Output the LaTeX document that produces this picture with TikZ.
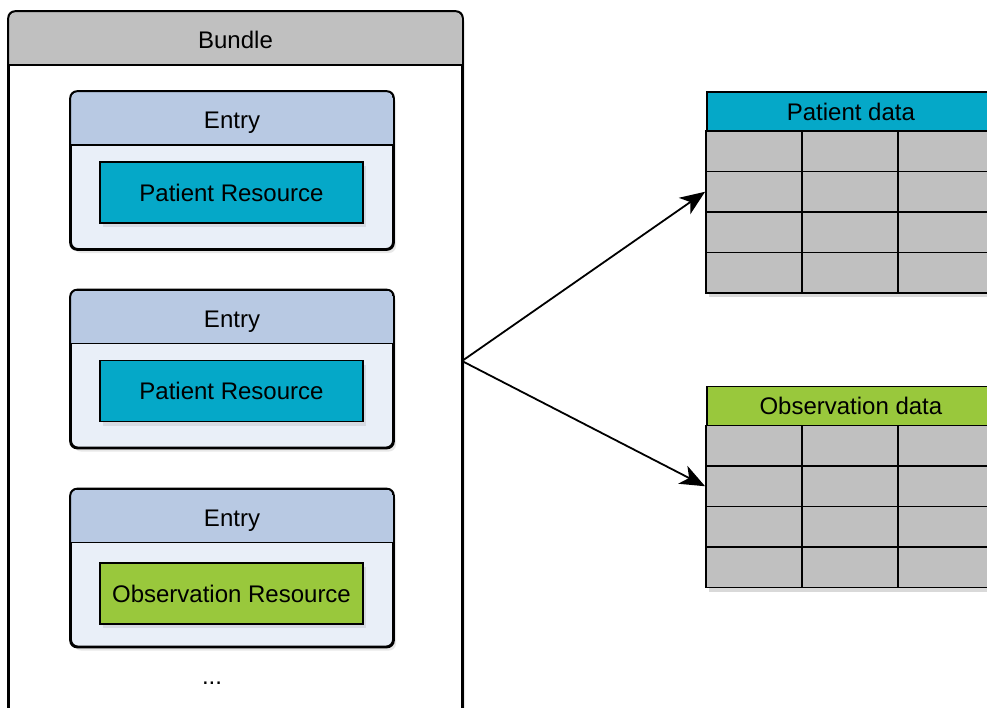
\documentclass[tikz,border=0pt]{standalone}
\usepackage{fontspec}
\setmainfont{Liberation Sans}
\usetikzlibrary{shadows,arrows.meta}
\definecolor{bundlehead}{HTML}{C0C0C0}
\definecolor{entryhead}{HTML}{B8C9E3}
\definecolor{entrybg}{HTML}{E9EFF8}
\definecolor{patientcol}{HTML}{05A8C8}
\definecolor{obscol}{HTML}{99C83C}
\definecolor{cellgray}{HTML}{C0C0C0}
\newcommand\mylbl{\fontsize{24}{28}\selectfont}
\tikzset{
  bord/.style={line width=1.8pt},
  shade/.style={drop shadow={shadow xshift=3pt,shadow yshift=-4pt,opacity=0.18}},
  entrybody/.style={draw, bord, fill=entrybg, rounded corners=7pt, minimum width=322pt, minimum height=157pt, inner sep=0pt, shade},
  resbox/.style={draw, bord, minimum width=263pt, minimum height=61pt, inner sep=0pt, shade, font=\mylbl},
  cell/.style={draw, bord, fill=cellgray, minimum width=96pt, minimum height=40.5pt, inner sep=0pt},
  thead/.style={draw, bord, minimum width=288pt, minimum height=40pt, inner sep=0pt, anchor=north west, font=\mylbl},
  lbl/.style={font=\mylbl, inner sep=0pt, anchor=base},
  conn/.style={line width=1.8pt, -{Stealth[length=25pt,width=20pt,inset=7pt]}},
}
% #1 name, #2 top, #3 text, #4 colour, #5 resource centre offset
\newcommand\myentry[5]{%
  \node[entrybody] (#1) at (232,#2+78.5) {};
  \begin{scope}
    \clip[rounded corners=7pt] (71,#2) rectangle (393,#2+157);
    \fill[entryhead] (71,#2) rectangle (393,#2+53);
  \end{scope}
  \draw[bord] (71,#2+53) -- (393,#2+53);
  \draw[bord, rounded corners=7pt] (#1.north west) rectangle (#1.south east);
  \node[lbl] (#1h) at (232,#2+36.5) {Entry};
  \node[resbox, fill=#4] (#1r) at (231.5,#2+#5) {#3};
}
\begin{document}
\begin{tikzpicture}[x=1pt,y=-1pt]
\clip (0,0) rectangle (987,707);
\fill[white] (0,0) rectangle (987,707);
% Bundle
\node[draw, bord, fill=white, rounded corners=7pt, minimum width=453pt, minimum height=740pt, inner sep=0pt, shade] (bundle) at (235.5,382) {};
\begin{scope}
  \clip[rounded corners=7pt] (9,12) rectangle (462,752);
  \fill[bundlehead] (9,12) rectangle (462,65);
\end{scope}
\draw[bord] (9,65) -- (462,65);
\draw[bord, rounded corners=7pt] (bundle.north west) rectangle (bundle.south east);
\node[lbl] (bundleh) at (235.5,48) {Bundle};
% Entries
\myentry{e1}{92}{Patient Resource}{patientcol}{100.5}
\myentry{e2}{290.5}{Patient Resource}{patientcol}{100.5}
\myentry{e3}{489.5}{Observation Resource}{obscol}{104}
\node[lbl] (dots) at (212,684) {...};
% Tables
\fill[black, opacity=0.15] (709,95) rectangle (997,297);
\node[thead, fill=patientcol] (pt) at (706,91) {Patient data};
\foreach \r in {1,...,4} {
  \foreach \c in {1,2,3} {
    \node[cell] (p-\r-\c) at ({706+96*(\c-1)+48},{131+40.5*(\r-1)+20.25}) {};
  }
}
\fill[black, opacity=0.15] (709,389) rectangle (997,592);
\node[thead, fill=obscol] (ot) at (706,385.5) {Observation data};
\foreach \r in {1,...,4} {
  \foreach \c in {1,2,3} {
    \node[cell] (o-\r-\c) at ({706+96*(\c-1)+48},{425.5+40.5*(\r-1)+20.25}) {};
  }
}
% Connectors
\coordinate (src) at (462,361);
\draw[conn] (src) -- (p-2-1.west);
\draw[conn] (src) -- (o-2-1.west);
\end{tikzpicture}
\end{document}
